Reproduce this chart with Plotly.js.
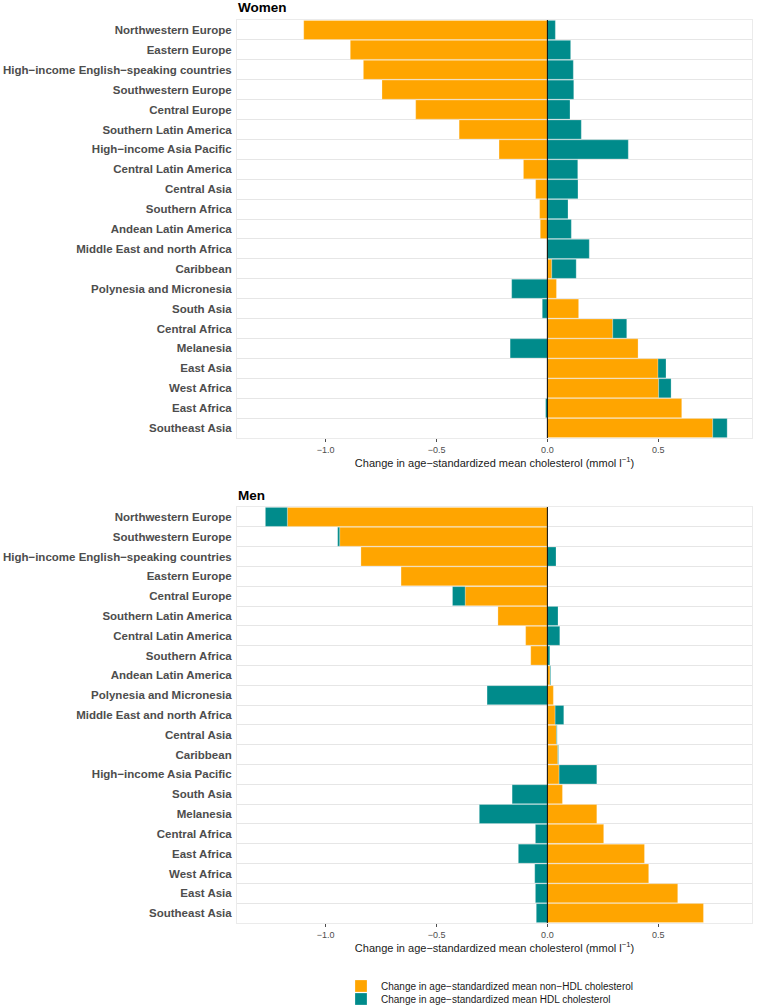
<!DOCTYPE html>
<html>
<head>
<meta charset="utf-8">
<script src="https://cdn.plot.ly/plotly-3.0.1.min.js"></script>
<style>html,body{margin:0;padding:0;background:#fff;}#chart{width:759px;height:1006px;}</style>
</head>
<body>
<div id="chart"></div>
<script>
const regionsWomen = ["Northwestern Europe","Eastern Europe","High\u2212income English\u2212speaking countries","Southwestern Europe","Central Europe","Southern Latin America","High\u2212income Asia Pacific","Central Latin America","Central Asia","Southern Africa","Andean Latin America","Middle East and north Africa","Caribbean","Polynesia and Micronesia","South Asia","Central Africa","Melanesia","East Asia","West Africa","East Africa","Southeast Asia"];
const nonHdlWomen = [-1.099,-0.889,-0.830,-0.746,-0.594,-0.398,-0.218,-0.108,-0.053,-0.035,-0.032,-0.002,0.020,0.041,0.141,0.295,0.409,0.499,0.502,0.606,0.746];
const hdlWomen = [0.036,0.105,0.117,0.119,0.102,0.153,0.365,0.137,0.138,0.093,0.108,0.189,0.110,-0.161,-0.023,0.063,-0.168,0.036,0.056,-0.008,0.065];

const regionsMen = ["Northwestern Europe","Southwestern Europe","High\u2212income English\u2212speaking countries","Eastern Europe","Central Europe","Southern Latin America","Central Latin America","Southern Africa","Andean Latin America","Polynesia and Micronesia","Middle East and north Africa","Central Asia","Caribbean","High\u2212income Asia Pacific","South Asia","Melanesia","Central Africa","East Africa","West Africa","East Asia","Southeast Asia"];
const nonHdlMen = [-1.173,-0.937,-0.841,-0.660,-0.371,-0.223,-0.098,-0.075,0.012,0.027,0.035,0.041,0.047,0.053,0.068,0.223,0.254,0.438,0.457,0.588,0.704];
const hdlMen = [-0.099,-0.009,0.039,0.002,-0.057,0.048,0.056,0.011,0.003,-0.272,0.039,0.003,0.003,0.170,-0.159,-0.307,-0.054,-0.131,-0.057,-0.054,-0.050];

const xTickVals = [-1, -0.5, 0, 0.5];
const xTickText = ["\u22121.0", "\u22120.5", "0.0", "0.5"];
const seriesNames = ["Change in age\u2212standardized mean non\u2212HDL cholesterol", "Change in age\u2212standardized mean HDL cholesterol"];
const xTitle = "Change in age\u2212standardized mean cholesterol (mmol l<sup>\u22121</sup>)";

const W = 759, H = 1006;
const px = v => v / W;
const py = v => 1 - v / H;
const ORANGE = "#FFA500", TEAL = "#008B8B";
const font = "Liberation Sans, Arial, Helvetica, sans-serif";

function barTrace(y, x, name, color, xa, ya, show, lg) {
  return {
    type: "bar", orientation: "h", y: y, x: x, name: name,
    marker: {color: color, line: {color: "rgba(255,255,255,0.5)", width: 0.5}},
    xaxis: xa, yaxis: ya, legendgroup: name, showlegend: show, legend: lg,
    hoverinfo: "x+y"
  };
}

const data = [
  barTrace(regionsWomen, nonHdlWomen, seriesNames[0], ORANGE, "x", "y", true, "legend"),
  barTrace(regionsWomen, hdlWomen, seriesNames[1], TEAL, "x", "y", true, "legend2"),
  barTrace(regionsMen, nonHdlMen, seriesNames[0], ORANGE, "x2", "y2", false, "legend"),
  barTrace(regionsMen, hdlMen, seriesNames[1], TEAL, "x2", "y2", false, "legend2")
];

const xRange = [-1.40, 0.923];
function xAxis(anchor) {
  return {
    domain: [px(237), px(752)], anchor: anchor, range: xRange,
    tickvals: xTickVals, ticktext: xTickText,
    ticks: "outside", ticklen: 3, tickcolor: "#4d4d4d", tickwidth: 1,
    tickfont: {family: font, size: 9, color: "#4d4d4d"},
    showgrid: false, zeroline: false,
    showline: true, mirror: true, linecolor: "#ebebeb", linewidth: 1,
    title: {text: xTitle, font: {family: font, size: 11, color: "#1a1a1a"}, standoff: 5},
    fixedrange: true
  };
}
function yAxis(cats, domain, anchor) {
  return {
    type: "category", categoryarray: cats, categoryorder: "array",
    range: [20.5, -0.5], domain: domain, anchor: anchor,
    tickson: "boundaries", ticks: "", showgrid: true, gridcolor: "#e6e6e6", gridwidth: 1,
    tickfont: {family: font, size: 11.5, color: "#4d4d4d", weight: "bold"},
    ticklabelstandoff: 2,
    zeroline: false, showline: true, mirror: true, linecolor: "#ebebeb", linewidth: 1,
    fixedrange: true
  };
}

function legendAt(yPix) {
  return {
    x: px(341), xanchor: "left", y: py(yPix), yanchor: "middle",
    orientation: "v", bgcolor: "rgba(0,0,0,0)", borderwidth: 0,
    font: {family: font, size: 10, color: "#1a1a1a"},
    tracegroupgap: 0
  };
}

const layout = {
  width: W, height: H,
  margin: {l: 0, r: 0, t: 0, b: 0, autoexpand: false},
  paper_bgcolor: "#fff", plot_bgcolor: "#fff",
  barmode: "relative", bargap: 0.04,
  font: {family: font, color: "#1a1a1a"},
  xaxis: xAxis("y"),
  yaxis: yAxis(regionsWomen, [py(438), py(20)], "x"),
  xaxis2: xAxis("y2"),
  yaxis2: yAxis(regionsMen, [py(923), py(507)], "x2"),
  shapes: [
    {type: "line", xref: "x", yref: "y domain", x0: 0, x1: 0, y0: 0, y1: 1, line: {color: "#000", width: 1}, layer: "above"},
    {type: "line", xref: "x2", yref: "y2 domain", x0: 0, x1: 0, y0: 0, y1: 1, line: {color: "#000", width: 1}, layer: "above"}
  ],
  annotations: [
    {text: "<b>Women</b>", xref: "paper", yref: "paper", x: px(236), y: py(7), xanchor: "left", yanchor: "middle", showarrow: false, font: {family: font, size: 13.5, color: "#000"}},
    {text: "<b>Men</b>", xref: "paper", yref: "paper", x: px(236), y: py(495), xanchor: "left", yanchor: "middle", showarrow: false, font: {family: font, size: 13.5, color: "#000"}}
  ],
  legend: legendAt(986),
  legend2: legendAt(999)
};

Plotly.newPlot("chart", data, layout, {displayModeBar: false, staticPlot: true});
</script>
</body>
</html>
